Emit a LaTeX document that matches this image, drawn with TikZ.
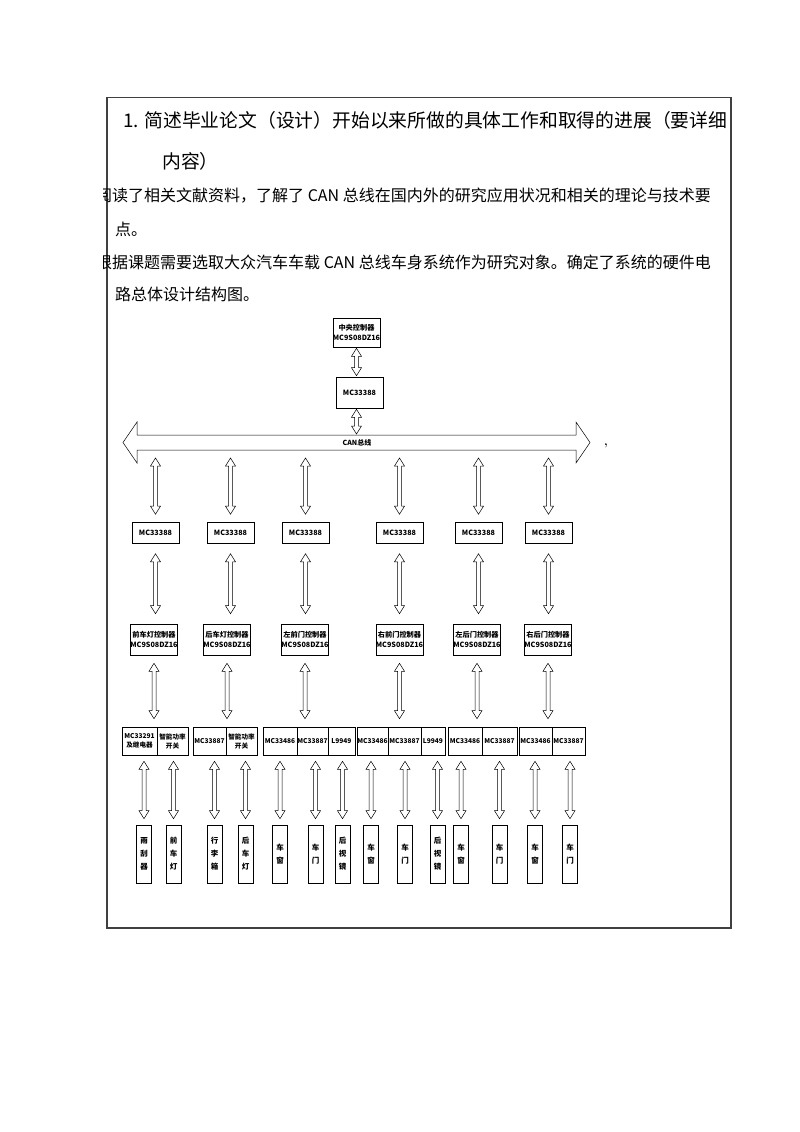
\documentclass[tikz,border=0pt]{standalone}
\usepackage{fontspec}
\newfontfamily\cjk{Noto Sans CJK SC}
\usetikzlibrary{calc}

% hollow double arrow, x taken from the first point
\newcommand{\dbl}[3][7]{\draw[hollow] let \p1=#2, \p2=#3 in
  (\x1,\y1-#1pt) -- (\x1+5pt,\y1-#1pt-8pt) -- (\x1+2pt,\y1-#1pt-8pt) -- (\x1+2pt,\y2+#1pt+8pt)
  -- (\x1+5pt,\y2+#1pt+8pt) -- (\x1,\y2+#1pt) -- (\x1-5pt,\y2+#1pt+8pt) -- (\x1-2pt,\y2+#1pt+8pt)
  -- (\x1-2pt,\y1-#1pt-8pt) -- (\x1-5pt,\y1-#1pt-8pt) -- cycle;}

\begin{document}
\begin{tikzpicture}[x=1pt, y=-1pt,
  box/.style={draw, line width=0.6pt, inner sep=0pt, align=center, font=\cjk\bfseries\fontsize{7.2}{9.5}\selectfont},
  cell/.style={draw, line width=0.6pt, inner sep=0pt, align=center, minimum height=28pt, font=\cjk\bfseries\fontsize{6.6}{9}\selectfont},
  dev/.style={draw, line width=0.6pt, inner sep=0pt, align=center, minimum width=15pt, minimum height=58pt, font=\cjk\bfseries\fontsize{7.5}{13}\selectfont},
  hollow/.style={draw, fill=white, line width=0.5pt},
  txt/.style={anchor=west, inner sep=0pt, font=\cjk\fontsize{16}{16}\selectfont}]
    \useasboundingbox (0,0) rectangle (800,1132);
    % frame
    \draw[line width=1.3pt, black!75] (107,97.5) rectangle (731,928);
    % text
    \begin{scope}
        \clip (103,0) rectangle (800,1132);
        \node[txt, font=\cjk\fontsize{18.8}{19}\selectfont] (t1) at (123,120) {1. 简述毕业论文（设计）开始以来所做的具体工作和取得的进展（要详细};
        \node[txt, font=\cjk\fontsize{18.8}{19}\selectfont] (t2) at (162,161) {内容）};
        \node[txt] (t3) at (96,196) {阅读了相关文献资料，了解了 CAN 总线在国内外的研究应用状况和相关的理论与技术要};
        \node[txt] (t4) at (115,229) {点。};
        \node[txt] (t5) at (96,262) {根据课题需要选取大众汽车车载 CAN 总线车身系统作为研究对象。确定了系统的硬件电};
        \node[txt] (t6) at (115,294) {路总体设计结构图。};
    \end{scope}
    % top
    \node[box, minimum width=45pt, minimum height=29pt] (cc) at (356.5,332.5) {中央控制器\\MC9S08DZ16};
    \node[box, minimum width=47pt, minimum height=31pt] (ct) at (359.5,392.5) {MC33388};
    % bus
    \draw[hollow] (123,442.5) -- (137,422) -- (137,435) -- (576,435) -- (576,422) -- (590,442.5)
        -- (576,463) -- (576,450) -- (137,450) -- (137,463) -- cycle;
    \coordinate (bust) at (357,435);
    \coordinate (busb) at (357,450);
    \node[font=\cjk\bfseries\fontsize{7}{7}\selectfont, inner sep=0pt] (can) at (357,442.5) {CAN总线};
    \node[font=\bfseries\fontsize{12}{12}\selectfont, inner sep=0pt] (dot) at (606,446) {,};
    % transceivers and controllers
    \foreach \i/\x in {1/155.5, 2/230.5, 3/305.5, 4/399.5, 5/478.5, 6/548.5}
        \node[box, minimum width=47pt, minimum height=21pt] (m\i) at (\x,533) {MC33388};
    \foreach \i/\x/\t in {1/154/前车灯, 2/227/后车灯, 3/305/左前门, 4/399.5/右前门, 5/477/左后门, 6/548/右后门}
        \node[box, minimum width=46pt, minimum height=31pt] (c\i) at (\x,639.5) {\t 控制器\\MC9S08DZ16};
    % drivers
    \node[cell, minimum width=35pt] (d1a) at (139.5,741) {MC33291\\及继电器};
    \node[cell, minimum width=31pt] (d1b) at (172.5,741) {智能功率\\开关};
    \node[cell, minimum width=33pt] (d2a) at (209.5,741) {MC33887};
    \node[cell, minimum width=31pt] (d2b) at (241.5,741) {智能功率\\开关};
    \node[cell, minimum width=34pt] (d3a) at (280,741) {MC33486};
    \node[cell, minimum width=31pt] (d3b) at (312.5,741) {MC33887};
    \node[cell, minimum width=27pt] (d3c) at (341.5,741) {L9949};
    \node[cell, minimum width=31pt] (d4a) at (372.5,741) {MC33486};
    \node[cell, minimum width=33pt] (d4b) at (404.5,741) {MC33887};
    \node[cell, minimum width=24pt] (d4c) at (433,741) {L9949};
    \node[cell, minimum width=34pt] (d5a) at (465,741) {MC33486};
    \node[cell, minimum width=35pt] (d5b) at (499.5,741) {MC33887};
    \node[cell, minimum width=33pt] (d6a) at (535.5,741) {MC33486};
    \node[cell, minimum width=33pt] (d6b) at (568.5,741) {MC33887};
    % devices
    \node[dev] (e1) at (144,854) {雨\\刮\\器};
    \node[dev] (e2) at (173.5,854) {前\\车\\灯};
    \node[dev] (e3) at (214.5,854) {行\\李\\箱};
    \node[dev] (e4) at (245.5,854) {后\\车\\灯};
    \node[dev] (e5) at (280,854) {车\\窗};
    \node[dev] (e6) at (315.5,854) {车\\门};
    \node[dev] (e7) at (342.5,854) {后\\视\\镜};
    \node[dev] (e8) at (371,854) {车\\窗};
    \node[dev] (e9) at (405,854) {车\\门};
    \node[dev] (e10) at (437.5,854) {后\\视\\镜};
    \node[dev] (e11) at (461,854) {车\\窗};
    \node[dev] (e12) at (499.5,854) {车\\门};
    \node[dev] (e13) at (535,854) {车\\窗};
    \node[dev] (e14) at (570,854) {车\\门};
    % arrows
    \dbl[1]{(cc.south)}{(ct.north)}
    \dbl[1]{(cc.south |- ct.south)}{(cc.south |- bust)}
    \foreach \i in {1,...,6} {
        \dbl[8]{(m\i.north |- busb)}{(m\i.north)}
        \dbl[10]{(m\i.south)}{(c\i.north)}
        \dbl[8]{(c\i.south)}{(d\i a.north)}
    }
    \foreach \src/\dst in {d1a/e1, d1b/e2, d2a/e3, d2b/e4, d3a/e5, d3b/e6, d3c/e7, d4a/e8, d4b/e9, d4c/e10, d5a/e11, d5b/e12, d6a/e13, d6b/e14} {
        \dbl[6]{(\dst.north |- \src.south)}{(\dst.north)}
    }
\end{tikzpicture}
\end{document}
